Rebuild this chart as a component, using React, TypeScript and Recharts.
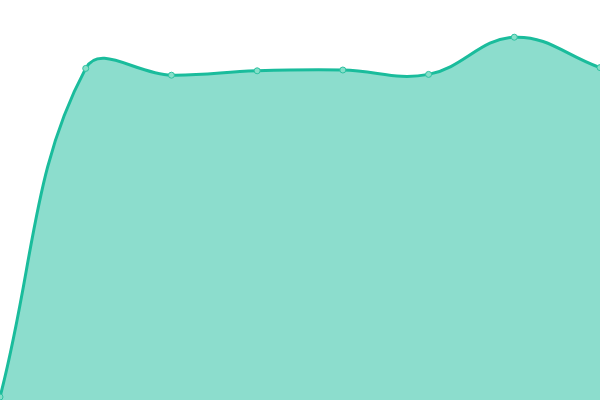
import React from "react";
import { AreaChart, Area, XAxis, YAxis } from "recharts";

const categories = ["A", "B", "C", "D", "E", "F", "G", "H"];
const values = [0.75, 82.9, 81.2, 82.3, 82.5, 81.4, 90.7, 83.1];

const data = categories.map((c, i) => ({ name: c, value: values[i] }));

// Distance-weighted spline (tension based), first/last points use themselves as neighbours
function makeSplineCurve(tension: number) {
  return function (context: any) {
    let pts: [number, number][] = [];
    let line: number = NaN;
    const draw = () => {
      const n = pts.length;
      if (n === 0) return;
      if (line) context.lineTo(pts[0][0], pts[0][1]);
      else context.moveTo(pts[0][0], pts[0][1]);
      if (n === 1) return;
      const cps = pts.map((cur, i) => {
        const prev = i === 0 ? cur : pts[i - 1];
        const next = i === n - 1 ? cur : pts[i + 1];
        const d01 = Math.hypot(cur[0] - prev[0], cur[1] - prev[1]);
        const d12 = Math.hypot(next[0] - cur[0], next[1] - cur[1]);
        let s01 = d01 / (d01 + d12);
        let s12 = d12 / (d01 + d12);
        if (isNaN(s01)) s01 = 0;
        if (isNaN(s12)) s12 = 0;
        const fa = tension * s01;
        const fb = tension * s12;
        return {
          px: cur[0] - fa * (next[0] - prev[0]),
          py: cur[1] - fa * (next[1] - prev[1]),
          nx: cur[0] + fb * (next[0] - prev[0]),
          ny: cur[1] + fb * (next[1] - prev[1]),
        };
      });
      for (let i = 1; i < n; i++) {
        const a = cps[i - 1];
        const b = cps[i];
        context.bezierCurveTo(a.nx, a.ny, b.px, b.py, pts[i][0], pts[i][1]);
      }
    };
    return {
      areaStart() { line = 0; },
      areaEnd() { line = NaN; },
      lineStart() { pts = []; },
      lineEnd() {
        draw();
        if (line || (line !== 0 && pts.length === 1)) context.closePath();
        line = 1 - line;
      },
      point(x: number, y: number) { pts.push([+x, +y]); },
    };
  };
}

const splineCurve = makeSplineCurve(0.4);

export default function App() {
  return (
    <div style={{ position: "absolute", left: 0, top: 0, width: 600, height: 400, background: "#fff" }}>
      <AreaChart width={600} height={400} data={data} margin={{ top: 0, right: 0, bottom: 0, left: 0 }}>
        <XAxis dataKey="name" hide />
        <YAxis hide domain={[0, 100]} />
        <Area
          type={splineCurve as any}
          dataKey="value"
          stroke="#1abc9c"
          strokeWidth={3}
          fill="rgba(26,188,156,0.5)"
          fillOpacity={1}
          dot={{ r: 3, fill: "#86dfc9", stroke: "#2fc2a2", strokeWidth: 1, fillOpacity: 1 }}
          activeDot={false}
          isAnimationActive={false}
        />
      </AreaChart>
    </div>
  );
}
